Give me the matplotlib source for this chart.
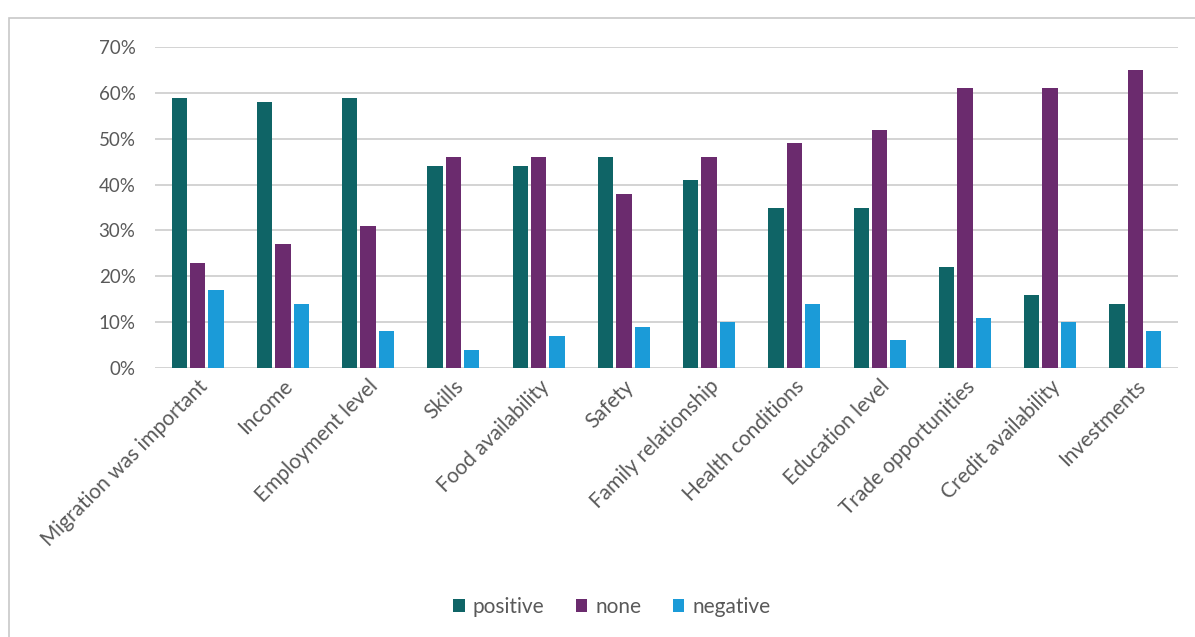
import numpy as np
import matplotlib.pyplot as plt
from matplotlib.patches import Rectangle
from matplotlib.ticker import PercentFormatter

plt.rcParams['font.family'] = ['Lato', 'DejaVu Sans']

categories = ['Migration was important', 'Income', 'Employment level', 'Skills',
              'Food availability', 'Safety', 'Family relationship', 'Health conditions',
              'Education level', 'Trade opportunities', 'Credit availability', 'Investments']
positive = [59, 58, 59, 44, 44, 46, 41, 35, 35, 22, 16, 14]
none = [23, 27, 31, 46, 46, 38, 46, 49, 52, 61, 61, 65]
negative = [17, 14, 8, 4, 7, 9, 10, 14, 6, 11, 10, 8]
series_names = ['positive', 'none', 'negative']
colors = ['#0f6466', '#6b2b6e', '#1b9bd8']

fig = plt.figure(figsize=(11.95, 6.37), dpi=100)
ax = fig.add_axes([0.1297, 0.4223, 0.8561, 0.5037])

# frame around the chart (cut off on the right and bottom)
fig.patches.append(Rectangle((9 / 1195, -0.05), 1.2, 1 - 18 / 637 + 0.05,
                             transform=fig.transFigure, fill=False,
                             edgecolor='#c8c8c8', linewidth=1.2))

x = np.arange(len(categories))
w = 0.18
step = 0.215
for i, (vals, name, c) in enumerate(zip([positive, none, negative], series_names, colors)):
    ax.bar(x + (i - 1) * step, np.array(vals) / 100, width=w, color=c, label=name, zorder=3)

ax.set_xlim(-0.5, len(categories) - 0.5)
ax.set_ylim(0, 0.70)
ax.set_yticks(np.arange(0, 0.71, 0.10))
ax.yaxis.set_major_formatter(PercentFormatter(1.0, decimals=0))
ax.grid(axis='y', color='#d0d0d0', linewidth=1.3, zorder=0)
for s in ax.spines.values():
    s.set_visible(False)
ax.tick_params(length=0, labelsize=13.5, labelcolor='#595959')
ax.tick_params(axis='y', pad=14)
ax.set_xticks(x)
ax.set_xticklabels(categories, rotation=45, ha='right', rotation_mode='anchor', fontsize=15)
ax.tick_params(axis='x', pad=6)

fig.legend(loc='center', bbox_to_anchor=(612 / 1195, 1 - 607 / 637), ncol=3,
           frameon=False, fontsize=15, handlelength=0.55, handleheight=0.55,
           handletextpad=0.4, columnspacing=1.5, labelcolor='#595959')

fig.savefig('out.png', dpi=100)
